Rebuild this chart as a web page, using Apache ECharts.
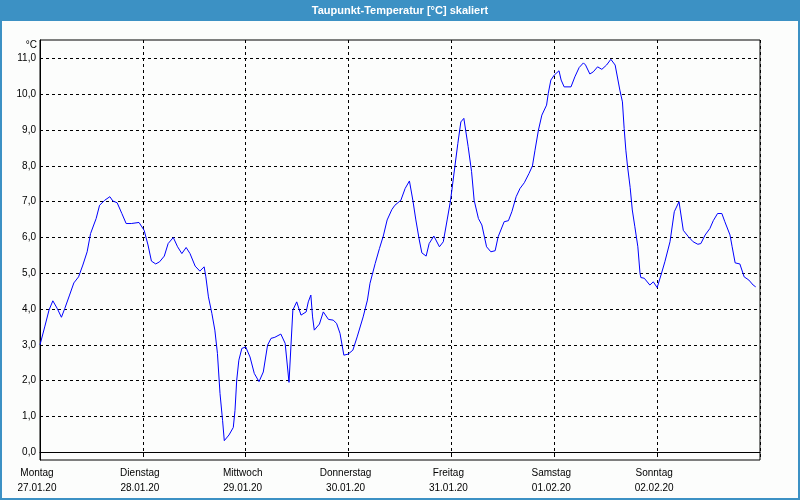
<!DOCTYPE html>
<html>
<head>
<meta charset="utf-8">
<script src="https://cdn.jsdelivr.net/npm/echarts@6/dist/echarts.min.js"></script>
<style>
html,body{margin:0;padding:0;background:#fcfdfc;}
#chart{width:800px;height:500px;}
</style>
</head>
<body>
<div id="chart"></div>
<script>
const chartTitle = 'Taupunkt-Temperatur [°C] skaliert';
const unitLabel = '°C';
const dayNames = ['Montag','Dienstag','Mittwoch','Donnerstag','Freitag','Samstag','Sonntag'];
const dayDates = ['27.01.20','28.01.20','29.01.20','30.01.20','31.01.20','01.02.20','02.02.20'];
const yTicks = [0,1,2,3,4,5,6,7,8,9,10,11];
const dayTicks = [0,24,48,72,96,120,144,168];

// hours since Montag 27.01.20 00:00
const hours = [
0,1.1,2.1,3.0,4.0,5.0,5.8,6.9,7.9,9.0,10.0,11.0,11.8,13.1,13.9,15.1,16.3,17.0,18.0,19.1,20.1,21.3,23.1,24.3,25.2,26.0,27.0,27.9,29.0,29.9,
31.1,32.1,33.1,34.1,35.0,36.2,37.3,38.3,38.7,39.3,40.1,40.8,41.4,42.0,42.6,43.0,44.1,45.1,45.5,45.9,46.4,47.1,48.0,49.0,50.0,51.1,52.1,53.1,53.9,54.8,
56.2,57.2,58.1,59.0,59.9,60.9,62.1,62.6,63.2,63.6,64.0,65.2,66.1,67.3,68.4,69.2,70.0,70.9,71.9,73.0,74.0,75.4,76.4,77.0,78.2,79.2,80.1,81.0,82.1,82.8,
84.2,85.2,86.2,87.0,87.7,88.5,89.1,90.1,90.8,91.9,93.2,94.1,95.0,95.8,96.8,97.5,98.2,98.9,99.9,100.7,101.3,102.3,103.1,104.2,105.2,106.2,106.9,108.3,109.3,110.1,
111.1,112.0,113.0,114.1,114.9,115.5,116.3,117.1,118.2,118.6,119.2,120.0,121.1,121.6,122.3,123.9,124.8,125.8,126.8,127.3,128.3,129.1,130.1,131.1,132.2,133.2,134.2,135.3,135.9,136.3,
136.7,137.1,137.7,138.2,138.8,139.5,140.0,140.2,141.0,142.3,143.1,144.0,144.9,145.8,147.0,148.0,149.1,150.1,151.3,152.4,153.5,154.2,155.2,156.3,157.1,158.1,159.1,159.8,161.0,161.5,
162.2,163.3,164.3,165.4,166.4,167.0
];
const dewPoint = [
3.0,3.5,3.97,4.23,4.02,3.77,4.02,4.39,4.73,4.9,5.23,5.6,6.11,6.53,6.9,7.04,7.14,7.02,6.97,6.67,6.39,6.39,6.42,6.2,5.79,5.34,5.26,5.32,5.48,5.83,
6.0,5.74,5.55,5.72,5.55,5.2,5.06,5.18,4.9,4.34,3.88,3.41,2.76,1.64,0.89,0.32,0.48,0.69,1.17,2.01,2.57,2.9,2.94,2.66,2.2,1.97,2.24,2.99,3.18,3.21,
3.3,3.04,1.95,3.97,4.2,3.83,3.92,4.2,4.39,3.78,3.41,3.58,3.92,3.71,3.69,3.6,3.32,2.71,2.74,2.85,3.22,3.78,4.25,4.72,5.27,5.69,6.04,6.49,6.78,6.9,
7.04,7.37,7.58,7.04,6.49,5.93,5.57,5.48,5.83,6.04,5.74,5.88,6.49,7.04,7.98,8.63,9.23,9.33,8.54,7.84,7.04,6.53,6.35,5.74,5.6,5.63,6.02,6.44,6.47,6.72,
7.14,7.37,7.53,7.79,8.0,8.44,9.0,9.42,9.7,10.03,10.4,10.54,10.66,10.4,10.21,10.21,10.49,10.75,10.88,10.82,10.57,10.63,10.77,10.7,10.82,10.98,10.82,10.12,9.79,9.05,
8.44,7.98,7.4,6.77,6.3,5.74,5.0,4.88,4.86,4.67,4.76,4.6,4.95,5.32,5.88,6.72,7.0,6.2,6.02,5.88,5.81,5.83,6.07,6.25,6.47,6.67,6.67,6.44,6.07,5.74,
5.29,5.26,4.9,4.81,4.67,4.62
];

const seriesData = hours.map((h, i) => [h, dewPoint[i]]);
const labelFont = 'Liberation Sans, Arial, sans-serif';

const chart = echarts.init(document.getElementById('chart'), null, {renderer: 'canvas'});
chart.setOption({
  animation: false,
  backgroundColor: '#fcfdfc',
  grid: {left: 40, right: 40, top: 40, bottom: 40, show: true, borderColor: '#000', borderWidth: 1, backgroundColor: 'transparent'},
  xAxis: {
    type: 'value', min: dayTicks[0], max: dayTicks[dayTicks.length-1], interval: 24,
    axisLine: {show: true, lineStyle: {color: '#000', width: 1}},
    axisTick: {show: true, length: 4, lineStyle: {color: '#000'}},
    splitLine: {show: true, lineStyle: {color: '#000', width: 1, type: [3,3]}},
    axisLabel: {
      margin: 6, fontSize: 10, fontFamily: labelFont, color: '#000', lineHeight: 15,
      padding: [0, 6, 0, 0],
      showMaxLabel: false,
      formatter: v => { const i = Math.round(v/24); return i < dayNames.length ? dayNames[i] + '\n' + dayDates[i] : ''; }
    }
  },
  yAxis: {
    type: 'value', min: -0.22, max: 11.52,
    axisLine: {show: true, lineStyle: {color: '#000'}},
    axisTick: {show: false},
    splitLine: {show: false},
    axisLabel: {
      customValues: yTicks, margin: 4, fontSize: 10, fontFamily: labelFont, color: '#000',
      formatter: v => v.toFixed(1).replace('.', ',')
    }
  },
  series: [{
    type: 'line', data: seriesData, showSymbol: false, symbol: 'none',
    lineStyle: {color: '#0000ff', width: 1}, z: 5,
    markLine: {
      silent: true, symbol: ['none','none'], label: {show: false}, animation: false,
      lineStyle: {color: '#000', width: 1, type: [3,3]},
      data: yTicks.map(v => ({yAxis: v}))
    }
  }],
  graphic: [
    {type: 'rect', shape: {x: 0, y: 0, width: 800, height: 21}, style: {fill: '#3c91c4'}, silent: true},
    {type: 'text', x: 400, y: 11, style: {text: chartTitle, fill: '#fff', font: 'bold 11px ' + labelFont, textAlign: 'center', textVerticalAlign: 'middle'}, silent: true},
    {type: 'text', x: 37, y: 45, style: {text: unitLabel, fill: '#000', font: '10px ' + labelFont, textAlign: 'right', textVerticalAlign: 'middle'}, silent: true},
    {type: 'rect', shape: {x: 1, y: 1, width: 798, height: 498}, style: {fill: 'none', stroke: '#3c91c4', lineWidth: 2}, silent: true}
  ]
});
</script>
</body>
</html>
